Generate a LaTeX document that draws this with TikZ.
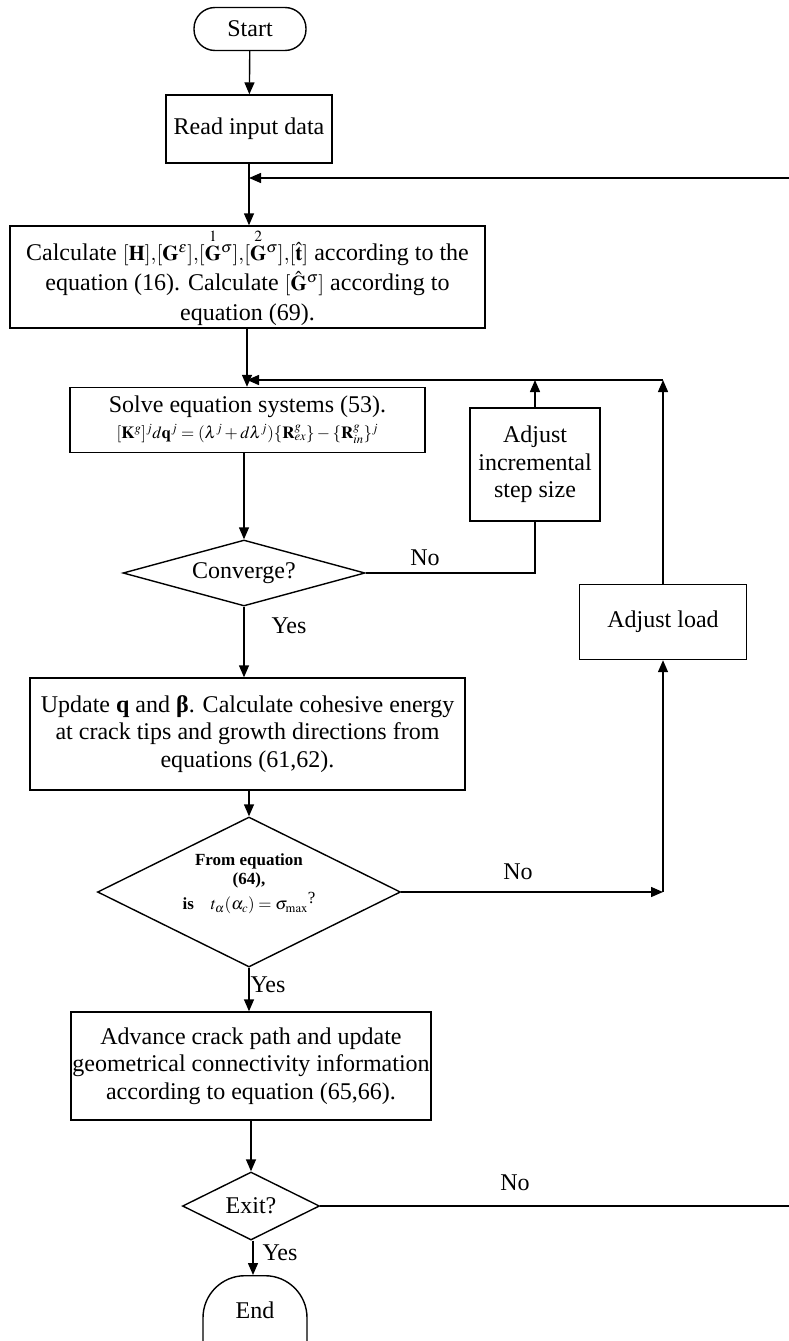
\documentclass[tikz,border=0pt]{standalone}
\usepackage{amsmath}
\usepackage{mathptmx}
\usepackage{fontspec}
\setmainfont{Liberation Serif}
\usetikzlibrary{arrows.meta,shapes.geometric}
\begin{document}
\begin{tikzpicture}[x=1pt,y=-1pt,
  line width=1.4pt,
  arr/.style={-{Triangle[length=12pt,width=10pt]}},
  txt/.style={font=\fontsize{24}{27.5}\selectfont},
  box/.style={draw, rectangle, inner sep=0pt, align=center, txt},
  dia/.style={draw, diamond, inner sep=0pt, align=center, txt},
  term/.style={draw, rectangle, rounded corners=21pt, inner sep=0pt, txt},
  lab/.style={txt, inner sep=0pt}]
\useasboundingbox (0,0) rectangle (788,1341);

\node[term, minimum width=112pt, minimum height=43pt] (start) at (250,29) {Start};
\node[box, minimum width=166pt, minimum height=68pt] (read) at (249,129) {Read input data};
\node[box, minimum width=475pt, minimum height=102pt, font=\fontsize{24}{30}\selectfont] (calc) at (247.5,277) {Calculate {\fontsize{21}{24}\selectfont$[\mathbf{H}]{,}[\mathbf{G}^{\varepsilon}]{,}[\overset{1}{\mathbf{G}}{}^{\sigma}]{,}[\overset{2}{\mathbf{G}}{}^{\sigma}]{,}[\hat{\mathbf{t}}]$} according to the\\ equation (16). Calculate {\fontsize{21}{24}\selectfont$[\hat{\mathbf{G}}^{\sigma}]$} according to\\ equation (69).};
\node[box, minimum width=355pt, minimum height=65pt] (solve) at (247.5,420) {Solve equation systems (53).\\[-2pt]
 {\fontsize{17}{19}\selectfont $[\mathbf{K}^{g}]^{j}d\mathbf{q}^{j}=(\lambda^{j}+d\lambda^{j})\{\mathbf{R}^{g}_{ex}\}-\{\mathbf{R}^{g}_{in}\}^{j}$}};
\node[box, minimum width=130pt, minimum height=113pt] (incr) at (535,464.5) {Adjust\\ incremental\\ step size};
\node[dia, aspect=3.6, minimum width=242pt, minimum height=66pt] (conv) at (244,573) {Converge?};
\node[box, minimum width=167pt, minimum height=75pt] (load) at (663,622) {Adjust load};
\node[box, minimum width=435pt, minimum height=112pt] (update) at (247.5,734) {Update \textbf{q} and \textbf{β}. Calculate cohesive energy\\ at crack tips and growth directions from\\ equations (61,62).};
\node[dia, aspect=2, minimum width=303pt, minimum height=150pt] (fromeq) at (249,892) {};
\node[align=center, inner sep=0pt, font=\fontsize{17}{19}\selectfont] (fromeqtxt) at ([yshift=8pt]fromeq.center) {\textbf{From equation}\\ \textbf{(64),}\\[3pt] \textbf{is}\quad $t_{\alpha}(\alpha_{c})=\sigma_{\max}$\raisebox{6pt}{?}};
\node[box, minimum width=360pt, minimum height=108pt] (adv) at (251,1066) {Advance crack path and update\\ geometrical connectivity information\\ according to equation (65,66).};
\node[dia, aspect=2, minimum width=137pt, minimum height=68pt] (exit) at (251,1206) {Exit?};
\node[draw, rectangle, rounded corners=42pt, inner sep=0pt, minimum width=104pt, minimum height=110pt, anchor=north,
  label={[txt, yshift=20pt]center:End}] (end) at (255,1275) {};

\coordinate (r1) at (792,178);
\coordinate (j2) at (663,380);
\coordinate (c3) at (663,892);

\draw[arr] (start) -- (read);
\draw[arr] (read.south) -- (read.south |- calc.north);
\draw[arr] (calc.south -| 247,0) -- (247,0 |- solve.north);
\draw[arr] (solve.south -| 244,0) -- (conv.north);
\draw[arr] (conv.south) -- (conv.south |- update.north);
\draw[arr] (update.south -| fromeq.north) -- (fromeq.north);
\draw[arr] (fromeq.south) -- (fromeq.south |- adv.north);
\draw[arr] (adv.south -| exit.north) -- (exit.north);
\draw[arr] (exit.south -| 253,0) -- (253,0 |- end.north);

\draw (conv.east) -- (conv.east -| incr.south) -- (incr.south);
\draw[arr] (incr.north) -- (incr.north |- j2);
\draw[arr] (load.north) -- (j2);
\draw[arr] (j2) -- (247,0 |- j2);

\draw[arr] (fromeq.east) -- (c3);
\draw[arr] (c3) -- (load.south);

\draw[arr] (exit.east) -- (exit.east -| r1) -- (r1) -- (read.south |- r1);

\node[lab] (no1) at (425,558) {No};
\node[lab] (yes1) at (289,626) {Yes};
\node[lab] (no2) at (518,872) {No};
\node[lab] (yes2) at (268,985) {Yes};
\node[lab] (no3) at (515,1183) {No};
\node[lab] (yes3) at (280,1253) {Yes};
\end{tikzpicture}
\end{document}
